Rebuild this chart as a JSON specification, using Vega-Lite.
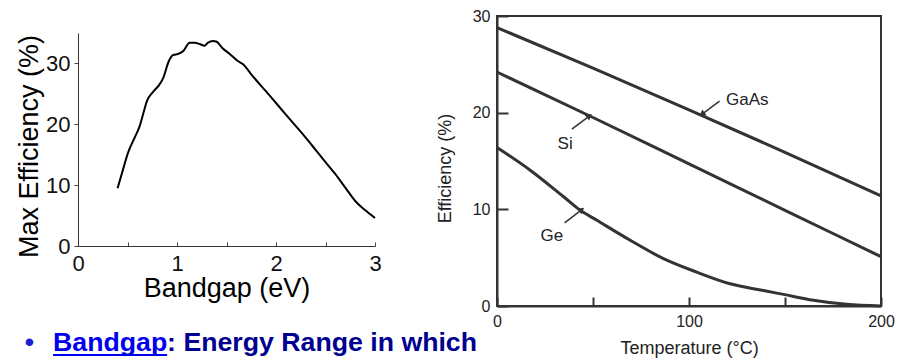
{
  "$schema": "https://vega.github.io/schema/vega-lite/v6.json",
  "background": "white",
  "padding": {"left": 15, "top": 7, "right": 4, "bottom": 0},
  "spacing": 122,
  "bounds": "flush",
  "config": {
    "view": {"stroke": null},
    "font": "Liberation Sans",
    "axis": {"grid": false, "labelFont": "Liberation Sans", "titleFont": "Liberation Sans", "titleFontWeight": "normal", "labelFlush": false, "labelOverlap": false}
  },
  "datasets": {
    "maxeff": [
      {"bandgap": 0.40, "eff": 9.5},
      {"bandgap": 0.45, "eff": 12.3},
      {"bandgap": 0.505, "eff": 15.3},
      {"bandgap": 0.572, "eff": 17.8},
      {"bandgap": 0.623, "eff": 19.7},
      {"bandgap": 0.66, "eff": 21.8},
      {"bandgap": 0.696, "eff": 23.8},
      {"bandgap": 0.757, "eff": 25.3},
      {"bandgap": 0.817, "eff": 26.4},
      {"bandgap": 0.858, "eff": 27.5},
      {"bandgap": 0.918, "eff": 30.4},
      {"bandgap": 0.959, "eff": 31.35},
      {"bandgap": 1.019, "eff": 31.6},
      {"bandgap": 1.066, "eff": 32.1},
      {"bandgap": 1.127, "eff": 33.4},
      {"bandgap": 1.178, "eff": 33.4},
      {"bandgap": 1.228, "eff": 33.2},
      {"bandgap": 1.278, "eff": 32.9},
      {"bandgap": 1.312, "eff": 33.4},
      {"bandgap": 1.362, "eff": 33.7},
      {"bandgap": 1.396, "eff": 33.6},
      {"bandgap": 1.463, "eff": 32.45},
      {"bandgap": 1.53, "eff": 31.6},
      {"bandgap": 1.614, "eff": 30.4},
      {"bandgap": 1.665, "eff": 29.9},
      {"bandgap": 1.75, "eff": 28.2},
      {"bandgap": 1.834, "eff": 26.6},
      {"bandgap": 1.90, "eff": 25.4},
      {"bandgap": 2.00, "eff": 23.5},
      {"bandgap": 2.10, "eff": 21.6},
      {"bandgap": 2.20, "eff": 19.7},
      {"bandgap": 2.30, "eff": 17.8},
      {"bandgap": 2.40, "eff": 15.8},
      {"bandgap": 2.50, "eff": 13.8},
      {"bandgap": 2.60, "eff": 11.8},
      {"bandgap": 2.70, "eff": 9.6},
      {"bandgap": 2.80, "eff": 7.4},
      {"bandgap": 2.90, "eff": 5.9},
      {"bandgap": 3.00, "eff": 4.6}
    ],
    "bullet": [
      {"x": -0.49, "y": -17.3, "part": "dot", "label": "•"},
      {"x": -0.252, "y": -17.3, "part": "link", "label": "Bandgap"},
      {"x": 0.9, "y": -17.3, "part": "rest", "label": ": Energy Range in which"}
    ],
    "underline": [
      {"x": -0.252, "x2": 0.9, "y": -17.9}
    ],
    "temp": [
      {"material": "GaAs", "t": 0, "eff": 28.8},
      {"material": "GaAs", "t": 50, "eff": 24.6},
      {"material": "GaAs", "t": 100, "eff": 20.3},
      {"material": "GaAs", "t": 150, "eff": 15.9},
      {"material": "GaAs", "t": 200, "eff": 11.4},
      {"material": "Si", "t": 0, "eff": 24.2},
      {"material": "Si", "t": 50, "eff": 19.5},
      {"material": "Si", "t": 100, "eff": 14.7},
      {"material": "Si", "t": 150, "eff": 9.9},
      {"material": "Si", "t": 200, "eff": 5.1},
      {"material": "Ge", "t": 0, "eff": 16.4},
      {"material": "Ge", "t": 17.3, "eff": 14.05},
      {"material": "Ge", "t": 34.7, "eff": 11.3},
      {"material": "Ge", "t": 43.4, "eff": 9.9},
      {"material": "Ge", "t": 52.0, "eff": 8.87},
      {"material": "Ge", "t": 69.4, "eff": 6.8},
      {"material": "Ge", "t": 86.7, "eff": 4.9},
      {"material": "Ge", "t": 104.1, "eff": 3.5},
      {"material": "Ge", "t": 121.4, "eff": 2.3},
      {"material": "Ge", "t": 138.8, "eff": 1.6},
      {"material": "Ge", "t": 149.2, "eff": 1.2},
      {"material": "Ge", "t": 164.8, "eff": 0.6},
      {"material": "Ge", "t": 182.1, "eff": 0.17},
      {"material": "Ge", "t": 200, "eff": 0}
    ],
    "arrows": [
      {"material": "GaAs", "t": 115.9, "eff": 21.2, "t2": 107.2, "eff2": 19.9},
      {"material": "Si", "t": 39.0, "eff": 18.3, "t2": 47.7, "eff2": 19.6},
      {"material": "Ge", "t": 35.2, "eff": 8.6, "t2": 43.7, "eff2": 9.9}
    ],
    "labels": [
      {"material": "GaAs", "t": 119.3, "eff": 21.3},
      {"material": "Si", "t": 35.5, "eff": 16.75},
      {"material": "Ge", "t": 28.6, "eff": 7.2}
    ]
  },
  "hconcat": [
    {
      "width": 297,
      "height": 230,
      "layer": [
        {
          "data": {"name": "maxeff"},
          "mark": {"type": "line", "color": "#000", "strokeWidth": 2, "interpolate": "monotone"},
          "encoding": {
            "x": {
              "field": "bandgap", "type": "quantitative",
              "scale": {"domain": [0, 3], "nice": false},
              "axis": {
                "values": [0, 0.25, 0.5, 0.75, 1, 1.25, 1.5, 1.75, 2, 2.25, 2.5, 2.75, 3],
                "labelExpr": "datum.value % 1 === 0 ? '' + datum.value : ''",
                "tickSize": -4, "tickColor": "#444", "domainColor": "#333",
                "labelPadding": 11, "labelFontSize": 22, "labelColor": "#111",
                "title": "Bandgap (eV)", "titleFontSize": 27, "titleColor": "#000", "titlePadding": 1
              }
            },
            "y": {
              "field": "eff", "type": "quantitative",
              "scale": {"domain": [0, 35], "nice": false, "range": [230, 17]},
              "axis": {
                "values": [0, 2.5, 5, 7.5, 10, 12.5, 15, 17.5, 20, 22.5, 25, 27.5, 30, 32.5, 35],
                "labelExpr": "datum.value % 10 === 0 ? '' + datum.value : ''",
                "tickSize": 4, "tickColor": "#444", "domainColor": "#333",
                "labelPadding": 4, "labelFontSize": 22, "labelColor": "#111",
                "title": "Max Efficiency (%)", "titleFontSize": 27, "titleColor": "#000", "titlePadding": 2, "titleY": 130
              }
            }
          }
        },
        {
          "data": {"name": "bullet"},
          "transform": [{"filter": "datum.part === 'dot'"}],
          "mark": {"type": "text", "font": "Liberation Sans", "fontWeight": "bold", "fontSize": 26.7, "align": "center", "baseline": "alphabetic", "color": "#1c1cd0"},
          "encoding": {"x": {"field": "x", "type": "quantitative"}, "y": {"field": "y", "type": "quantitative"}, "text": {"field": "label"}}
        },
        {
          "data": {"name": "bullet"},
          "transform": [{"filter": "datum.part === 'link'"}],
          "mark": {"type": "text", "font": "Liberation Sans", "fontWeight": "bold", "fontSize": 26.7, "align": "left", "baseline": "alphabetic", "color": "#0000ee"},
          "encoding": {"x": {"field": "x", "type": "quantitative"}, "y": {"field": "y", "type": "quantitative"}, "text": {"field": "label"}}
        },
        {
          "data": {"name": "bullet"},
          "transform": [{"filter": "datum.part === 'rest'"}],
          "mark": {"type": "text", "font": "Liberation Sans", "fontWeight": "bold", "fontSize": 26.7, "align": "left", "baseline": "alphabetic", "color": "#000090"},
          "encoding": {"x": {"field": "x", "type": "quantitative"}, "y": {"field": "y", "type": "quantitative"}, "text": {"field": "label"}}
        },
        {
          "data": {"name": "underline"},
          "mark": {"type": "rule", "color": "#0000ee", "strokeWidth": 2},
          "encoding": {"x": {"field": "x", "type": "quantitative"}, "x2": {"field": "x2"}, "y": {"field": "y", "type": "quantitative"}}
        }
      ]
    },
    {
      "width": 384,
      "height": 290,
      "view": {"stroke": "#333", "strokeWidth": 2},
      "layer": [
        {
          "data": {"name": "temp"},
          "mark": {"type": "line", "color": "#333", "strokeWidth": 3, "interpolate": "monotone"},
          "encoding": {
            "x": {
              "field": "t", "type": "quantitative",
              "scale": {"domain": [0, 200], "nice": false},
              "axis": {
                "values": [0, 50, 100, 150, 200],
                "labelExpr": "datum.value % 100 === 0 ? '' + datum.value : ''",
                "tickSize": -9, "tickWidth": 2, "tickColor": "#333", "domainColor": "#333", "domainWidth": 2,
                "labelPadding": 16, "labelFontSize": 16, "labelColor": "#222",
                "title": "Temperature (°C)", "titleFontSize": 18, "titleColor": "#222", "titlePadding": 10
              }
            },
            "y": {
              "field": "eff", "type": "quantitative",
              "scale": {"domain": [0, 30], "nice": false},
              "axis": {
                "values": [0, 10, 20, 30],
                "tickSize": -11, "tickWidth": 2, "tickColor": "#333", "domainColor": "#333", "domainWidth": 2,
                "labelPadding": 18, "labelFontSize": 16, "labelColor": "#222",
                "title": "Efficiency (%)", "titleFontSize": 18, "titleColor": "#222", "titlePadding": 18, "titleY": 152
              }
            },
            "detail": {"field": "material"}
          }
        },
        {
          "data": {"name": "arrows"},
          "mark": {"type": "rule", "color": "#333", "strokeWidth": 1.5},
          "encoding": {
            "x": {"field": "t", "type": "quantitative"}, "x2": {"field": "t2"},
            "y": {"field": "eff", "type": "quantitative"}, "y2": {"field": "eff2"}
          }
        },
        {
          "data": {"name": "arrows"},
          "transform": [{"filter": "datum.material === 'GaAs'"}],
          "mark": {"type": "point", "shape": "triangle", "filled": true, "color": "#333", "size": 50, "angle": 233, "opacity": 1},
          "encoding": {"x": {"field": "t2", "type": "quantitative"}, "y": {"field": "eff2", "type": "quantitative"}}
        },
        {
          "data": {"name": "arrows"},
          "transform": [{"filter": "datum.material !== 'GaAs'"}],
          "mark": {"type": "point", "shape": "triangle", "filled": true, "color": "#333", "size": 50, "angle": 52, "opacity": 1},
          "encoding": {"x": {"field": "t2", "type": "quantitative"}, "y": {"field": "eff2", "type": "quantitative"}}
        },
        {
          "data": {"name": "labels"},
          "transform": [{"filter": "datum.material === 'GaAs'"}],
          "mark": {"type": "text", "font": "Liberation Sans", "fontSize": 17, "color": "#222", "align": "left", "baseline": "middle"},
          "encoding": {"x": {"field": "t", "type": "quantitative"}, "y": {"field": "eff", "type": "quantitative"}, "text": {"field": "material"}}
        },
        {
          "data": {"name": "labels"},
          "transform": [{"filter": "datum.material !== 'GaAs'"}],
          "mark": {"type": "text", "font": "Liberation Sans", "fontSize": 17, "color": "#222", "align": "center", "baseline": "middle"},
          "encoding": {"x": {"field": "t", "type": "quantitative"}, "y": {"field": "eff", "type": "quantitative"}, "text": {"field": "material"}}
        }
      ]
    }
  ]
}
